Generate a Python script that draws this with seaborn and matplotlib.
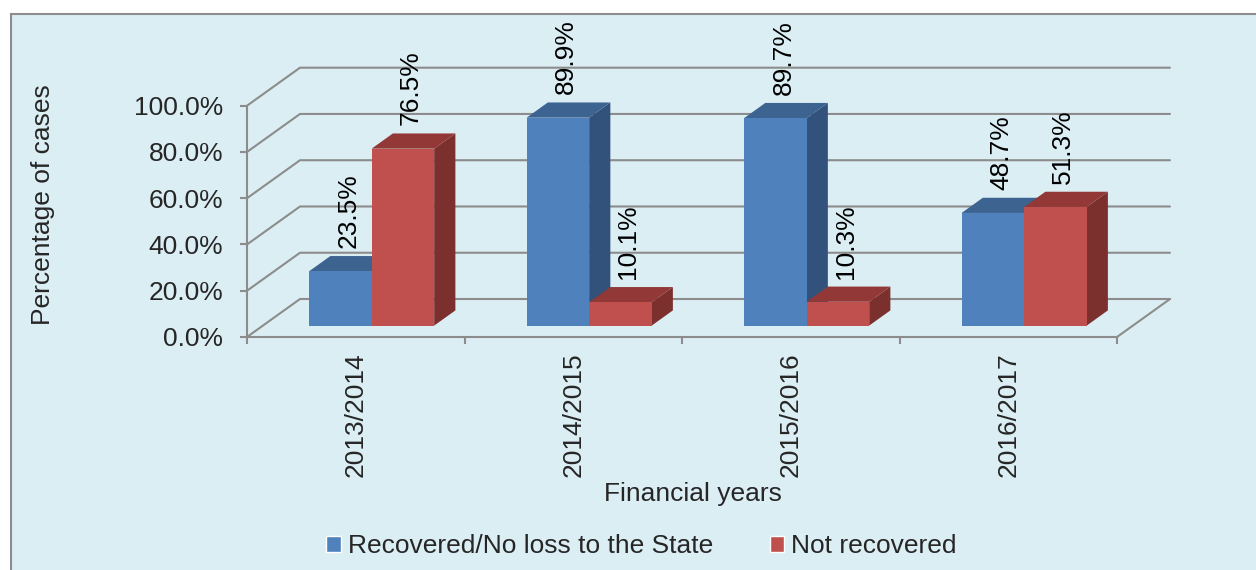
import matplotlib
matplotlib.use("Agg")
import matplotlib.pyplot as plt
from matplotlib.patches import Polygon, Rectangle
from matplotlib.lines import Line2D
from matplotlib.ticker import PercentFormatter
import seaborn as sns
import pandas as pd

# ---- data -------------------------------------------------------------
years = ["2013/2014", "2014/2015", "2015/2016", "2016/2017"]
series = ["Recovered/No loss to the State", "Not recovered"]
recovered = [23.5, 89.9, 89.7, 48.7]
not_recovered = [76.5, 10.1, 10.3, 51.3]
y_ticks = [0, 20, 40, 60, 80, 100]

# ---- style ------------------------------------------------------------
sns.set_theme(style="white")
plt.rcParams["font.family"] = ["Liberation Sans", "DejaVu Sans"]
FS = 19
BG = "#DBEEF4"
GRID = "#8C8C8C"
FRONT = ["#4F81BD", "#C0504D"]
TOP = ["#3D6491", "#923937"]
SIDE = ["#32527B", "#7B302E"]

W, H = 1256, 570
fig = plt.figure(figsize=(W / 100, H / 100), dpi=100, facecolor="white")

# chart area panel: top and left border only visible
fig.patches.append(Rectangle((11 / W, -0.05), 1.2, (H - 14) / H + 0.05,
                             transform=fig.transFigure, facecolor=BG,
                             edgecolor=GRID, linewidth=1.5, zorder=-10))

ax = fig.add_axes([247 / W, (H - 337) / H, 870 / W, (337 - 105.7) / H])
ax.set_facecolor("none")

df = pd.DataFrame({
    "year": years * 2,
    "series": [series[0]] * len(years) + [series[1]] * len(years),
    "value": recovered + not_recovered,
})

sns.barplot(data=df, x="year", y="value", hue="series", hue_order=series,
            palette=FRONT, width=0.575, saturation=1, ax=ax, legend=True,
            err_kws={"linewidth": 0})

ax.set_xlim(-0.5, len(years) - 0.5)
ax.set_ylim(0, 100)


def px_to_data(dx, dy):
    o = ax.transData.transform((0, 0))
    p = ax.transData.inverted().transform(o + [dx, dy])
    return p[0], p[1]


# oblique depth: full wall depth and the slab the bars occupy
WALL_PX = (53, 38)
wx, wy = px_to_data(*WALL_PX)
fx, fy = px_to_data(WALL_PX[0] * 0.3, WALL_PX[1] * 0.3)
bx, by = px_to_data(WALL_PX[0] * 0.7, WALL_PX[1] * 0.7)
lx, ly = px_to_data(8, 8)

# back wall gridlines and the floor edges
x_lo, x_hi = -0.5, len(years) - 0.5
for t in y_ticks:
    ax.add_line(Line2D([x_lo, x_lo + wx, x_hi + wx], [t, t + wy, t + wy],
                       color=GRID, lw=1.5, clip_on=False, zorder=1))
ax.add_line(Line2D([x_hi, x_hi + wx], [0, wy], color=GRID, lw=1.5,
                   clip_on=False, zorder=1))

# turn the flat bars into 3D columns
bars = [p for p in ax.patches if p.get_height() > 0]
bars.sort(key=lambda p: p.get_x())
for i, p in enumerate(bars):
    x0, w, h = p.get_x(), p.get_width(), p.get_height()
    k = 0 if p.get_facecolor()[2] > 0.5 else 1
    z = 3 + i * 0.1
    side = Polygon([(x0 + w + fx, fy), (x0 + w + bx, by),
                    (x0 + w + bx, h + by), (x0 + w + fx, h + fy)],
                   closed=True, facecolor=SIDE[k], edgecolor="none",
                   clip_on=False, zorder=z)
    top = Polygon([(x0 + fx, h + fy), (x0 + w + fx, h + fy),
                   (x0 + w + bx, h + by), (x0 + bx, h + by)],
                  closed=True, facecolor=TOP[k], edgecolor="none",
                  clip_on=False, zorder=z + 0.01)
    ax.add_patch(side)
    ax.add_patch(top)
    p.set_x(x0 + fx)
    p.set_y(fy)
    p.set_edgecolor("none")
    p.set_clip_on(False)
    p.set_zorder(z + 0.02)
    ax.text(x0 + w / 2 + fx + lx, h + by + ly, f"{h:.1f}%", rotation=90,
            ha="center", va="bottom", fontsize=FS, color="black",
            zorder=10, clip_on=False)

# axes, ticks and labels
for s in ["top", "right"]:
    ax.spines[s].set_visible(False)
for s in ["left", "bottom"]:
    ax.spines[s].set_color(GRID)
    ax.spines[s].set_linewidth(1.5)
    ax.spines[s].set_zorder(2)

ax.set_yticks(y_ticks)
ax.yaxis.set_major_formatter(PercentFormatter(xmax=100, decimals=1))
ax.tick_params(axis="y", direction="out", length=5, width=1.5, color=GRID,
               labelsize=FS, pad=12, left=True)
ax.set_xticks(range(len(years)))
ax.set_xticklabels(years, rotation=90)
ax.set_xticks([x_lo + i for i in range(len(years) + 1)], minor=True)
ax.tick_params(axis="x", which="major", length=0, labelsize=FS, pad=11)
ax.tick_params(axis="x", which="minor", direction="out", length=5,
               width=1.5, color=GRID, bottom=True)

ax.set_ylabel("Percentage of cases", fontsize=FS)
ax.yaxis.set_label_coords((43 - 247) / 870, (337 - 205) / 231.3)
ax.yaxis.label.set_va("center")
ax.set_xlabel("Financial years", fontsize=FS)
ax.xaxis.set_label_coords((693 - 247) / 870, (337 - 494) / 231.3)
ax.xaxis.label.set_va("center")

handles, labels = ax.get_legend_handles_labels()
ax.get_legend().remove()
fig.legend(handles, labels, loc="center", bbox_to_anchor=(641.5 / W, (H - 546) / H),
           ncol=2, frameon=False, fontsize=FS, handlelength=0.55,
           handleheight=0.55, handletextpad=0.27, columnspacing=2.15,
           borderaxespad=0)

fig.savefig("out.png", dpi=100, facecolor=fig.get_facecolor())
